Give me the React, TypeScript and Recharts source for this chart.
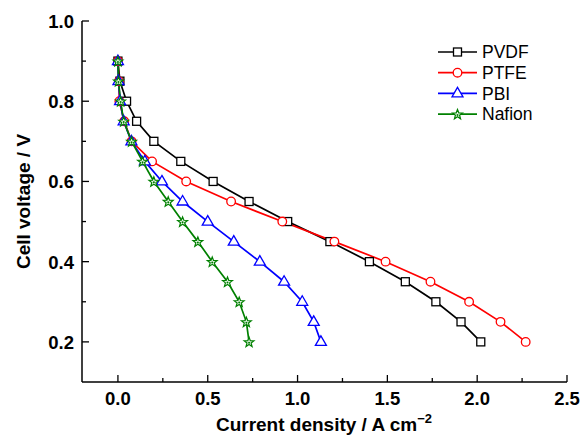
import React from 'react';
import { LineChart, Line, XAxis, YAxis, Legend } from 'recharts';

// ---- data ----
const voltages = [0.9, 0.85, 0.8, 0.75, 0.7, 0.65, 0.6, 0.55, 0.5, 0.45, 0.4, 0.35, 0.3, 0.25, 0.2];
const pvdfCurrent = [0.0, 0.011, 0.048, 0.104, 0.2, 0.35, 0.53, 0.73, 0.945, 1.18, 1.4, 1.6, 1.77, 1.91, 2.02];
const ptfeCurrent = [0.0, 0.005, 0.008, 0.035, 0.076, 0.19, 0.38, 0.63, 0.915, 1.205, 1.49, 1.74, 1.955, 2.13, 2.27];
const pbiCurrent = [0.0, 0.003, 0.012, 0.032, 0.075, 0.15, 0.245, 0.36, 0.5, 0.645, 0.79, 0.925, 1.026, 1.09, 1.13];
const nafionCurrent = [0.0, 0.003, 0.015, 0.032, 0.076, 0.137, 0.2, 0.28, 0.36, 0.445, 0.525, 0.61, 0.675, 0.715, 0.73];

const seriesNames = ['PVDF', 'PTFE', 'PBI', 'Nafion'];
const xTicks = [0, 0.25, 0.5, 0.75, 1.0, 1.25, 1.5, 1.75, 2.0, 2.25, 2.5];
const yTicks = [0.2, 0.3, 0.4, 0.5, 0.6, 0.7, 0.8, 0.9, 1.0];
const xDomain = [-0.2, 2.5];
const yDomain = [0.1, 1.0];
const xTitle = 'Current density / A cm';
const xTitleSup = '\u22122';
const yTitle = 'Cell voltage / V';

const toPoints = (xs: number[]) => xs.map((x, i) => ({ x, v: voltages[i] }));

const series = [
  { name: seriesNames[0], data: toPoints(pvdfCurrent), color: '#000000', kind: 'square' },
  { name: seriesNames[1], data: toPoints(ptfeCurrent), color: '#ff0000', kind: 'circle' },
  { name: seriesNames[2], data: toPoints(pbiCurrent), color: '#0000ff', kind: 'triangle' },
  { name: seriesNames[3], data: toPoints(nafionCurrent), color: '#008000', kind: 'star' },
];

const FONT = '"Liberation Sans", Arial, sans-serif';
const AXIS_STROKE = { stroke: '#000', strokeWidth: 1.5 };
const TICK_FONT = 18.5;

function starPoints(cx: number, cy: number, ro: number, ri: number) {
  const pts: string[] = [];
  for (let i = 0; i < 10; i++) {
    const r = i % 2 === 0 ? ro : ri;
    const a = -Math.PI / 2 + (i * Math.PI) / 5;
    pts.push(`${cx + r * Math.cos(a)},${cy + r * Math.sin(a)}`);
  }
  return pts.join(' ');
}

function Marker({ kind, cx, cy, color }: { kind: string; cx: number; cy: number; color: string }) {
  if (cx == null || cy == null) return null;
  switch (kind) {
    case 'square':
      return <rect x={cx - 4} y={cy - 4} width={8} height={8} fill="#fff" stroke={color} strokeWidth={1.3} />;
    case 'circle':
      return <circle cx={cx} cy={cy} r={4.3} fill="#fff" stroke={color} strokeWidth={1.3} />;
    case 'triangle':
      return (
        <polygon
          points={`${cx},${cy - 6} ${cx + 5.5},${cy + 3.5} ${cx - 5.5},${cy + 3.5}`}
          fill="#fff"
          stroke={color}
          strokeWidth={1.3}
        />
      );
    default:
      return (
        <g>
          <polygon points={starPoints(cx, cy + 0.5, 5.2, 2.2)} fill="#e8f4e8" stroke={color} strokeWidth={1.2} />
          <circle cx={cx} cy={cy + 0.8} r={1} fill={color} />
        </g>
      );
  }
}

const isMajorX = (v: number) => Math.abs(v * 2 - Math.round(v * 2)) < 1e-6;
const isMajorY = (v: number) => Math.round(v * 10) % 2 === 0;

const BottomTick = (props: any) => {
  const { x, y, payload } = props;
  const v = payload.value as number;
  const major = isMajorX(v);
  return (
    <g>
      <line x1={x} x2={x} y1={y} y2={y - (major ? 7 : 4)} stroke="#000" strokeWidth={1.3} />
      {major && (
        <text x={x} y={y + 23} textAnchor="middle" fontFamily={FONT} fontWeight="bold" fontSize={TICK_FONT} fill="#000">
          {v.toFixed(1)}
        </text>
      )}
    </g>
  );
};

const LeftTick = (props: any) => {
  const { x, y, payload } = props;
  const v = payload.value as number;
  const major = isMajorY(v);
  return (
    <g>
      <line x1={x} x2={x + (major ? 7 : 4)} y1={y} y2={y} stroke="#000" strokeWidth={1.3} />
      {major && (
        <text x={x - 8} y={y + 7} textAnchor="end" fontFamily={FONT} fontWeight="bold" fontSize={TICK_FONT} fill="#000">
          {v.toFixed(1)}
        </text>
      )}
    </g>
  );
};

const RightTick = (props: any) => {
  const { x, y, payload } = props;
  const v = payload.value as number;
  const major = isMajorY(v);
  return <line x1={x} x2={x - (major ? 5 : 3)} y1={y} y2={y} stroke="#000" strokeWidth={1.2} />;
};

const LegendBox = () => (
  <svg width={140} height={90} style={{ overflow: 'visible' }}>
    {series.map((s, i) => {
      const cy = 12 + i * 20.7;
      return (
        <g key={s.name}>
          <line x1={2} x2={41} y1={cy} y2={cy} stroke={s.color} strokeWidth={1.7} />
          <Marker kind={s.kind} cx={21.5} cy={cy} color={s.color} />
          <text x={46} y={cy + 6.3} fontFamily={FONT} fontSize={17.5} fill="#000">
            {s.name}
          </text>
        </g>
      );
    })}
  </svg>
);

const XTitle = (props: any) => {
  const { viewBox } = props;
  const cx = 324;
  return (
    <text x={cx} y={viewBox.y + 49} textAnchor="middle" fontFamily={FONT} fontWeight="bold" fontSize={19} fill="#000">
      {xTitle}
      <tspan fontSize={13} dy={-8}>{xTitleSup}</tspan>
    </text>
  );
};

const YTitle = (props: any) => {
  const { viewBox } = props;
  const x = viewBox.x + 30;
  const y = viewBox.y + viewBox.height / 2;
  return (
    <text
      x={x}
      y={y}
      textAnchor="middle"
      transform={`rotate(-90 ${x} ${y})`}
      fontFamily={FONT}
      fontWeight="bold"
      fontSize={19}
      fill="#000"
    >
      {yTitle}
    </text>
  );
};

export default function App() {
  return (
    <div style={{ position: 'absolute', left: 0, top: 0, background: '#fff' }}>
      <LineChart width={581} height={435} margin={{ top: 21, right: 14, bottom: 0, left: 0 }}>
        <XAxis
          dataKey="x"
          type="number"
          domain={xDomain}
          ticks={xTicks}
          interval={0}
          allowDataOverflow
          height={53}
          tickSize={0}
          tickMargin={0}
          tickLine={false}
          tick={BottomTick}
          axisLine={AXIS_STROKE}
          label={{ content: XTitle }}
        />
        <XAxis
          xAxisId="top"
          orientation="top"
          type="number"
          domain={xDomain}
          height={0}
          tick={false}
          tickLine={false}
          axisLine={AXIS_STROKE}
        />
        <YAxis
          type="number"
          domain={yDomain}
          ticks={yTicks}
          interval={0}
          allowDataOverflow
          width={82}
          tickSize={0}
          tickMargin={0}
          tickLine={false}
          tick={LeftTick}
          axisLine={AXIS_STROKE}
          label={{ content: YTitle }}
        />
        <YAxis
          yAxisId="right"
          orientation="right"
          type="number"
          domain={yDomain}
          ticks={yTicks}
          interval={0}
          width={0}
          tickSize={0}
          tickMargin={0}
          tickLine={false}
          tick={RightTick}
          axisLine={AXIS_STROKE}
        />
        <Legend
          layout="vertical"
          align="center"
          verticalAlign="middle"
          wrapperStyle={{ left: 436, top: 40, width: 140, height: 90 }}
          content={LegendBox}
        />
        {series.map((s) => (
          <Line
            key={s.name}
            name={s.name}
            data={s.data}
            dataKey="v"
            stroke={s.color}
            strokeWidth={1.7}
            isAnimationActive={false}
            dot={(p: any) => <Marker key={`${s.name}-${p.index}`} kind={s.kind} cx={p.cx} cy={p.cy} color={s.color} />}
            activeDot={false}
          />
        ))}
      </LineChart>
    </div>
  );
}
